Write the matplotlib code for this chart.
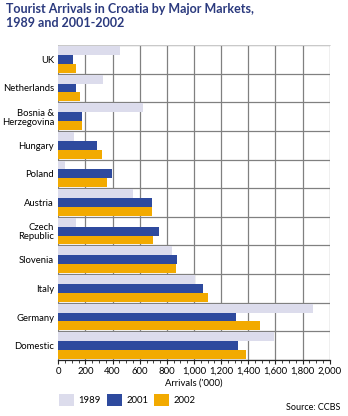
import matplotlib
matplotlib.use("Agg")
import matplotlib.pyplot as plt
from matplotlib.patches import Patch
from matplotlib.ticker import FuncFormatter, MultipleLocator

categories = ["UK", "Netherlands", "Bosnia &\nHerzegovina", "Hungary", "Poland",
              "Austria", "Czech\nRepublic", "Slovenia", "Italy", "Germany", "Domestic"]
arr_1989 = [457, 330, 627, 116, 49, 553, 133, 841, 1004, 1875, 1587]
arr_2001 = [111, 133, 177, 288, 398, 694, 745, 878, 1063, 1306, 1321]
arr_2002 = [133, 157, 177, 325, 362, 694, 701, 871, 1100, 1483, 1380]
series_labels = ["1989", "2001", "2002"]
colors = ["#dcdcec", "#2e4a9e", "#f2aa00"]

plt.rcParams['font.family'] = ['Lato', 'DejaVu Sans']

fig = plt.figure(figsize=(3.48, 4.16), dpi=100)
ax = fig.add_axes([58.3/348, 1-360/416, (329.7-58.3)/348, (360-45)/416])

y = list(range(len(categories)))
h = 0.31
for vals, off, c, lab in zip([arr_1989, arr_2001, arr_2002], [-h, 0, h], colors, series_labels):
    ax.barh([v + off for v in y], vals, height=h, color=c, label=lab, zorder=2, linewidth=0)

ax.set_xlim(0, 2000)
ax.set_ylim(len(categories) - 0.5, -0.5)
ax.set_yticks(y)
ax.set_yticklabels(categories, fontsize=6.8, linespacing=1.0)
ax.tick_params(axis='y', length=0, pad=3)
ax.set_yticks([i + 0.5 for i in range(-1, len(categories))], minor=True)
ax.tick_params(axis='y', which='minor', length=0)

ax.xaxis.set_major_locator(MultipleLocator(200))
ax.xaxis.set_minor_locator(MultipleLocator(50))
ax.xaxis.set_major_formatter(FuncFormatter(lambda v, p: f"{int(v):,}"))
ax.tick_params(axis='x', which='major', labelsize=6.8, length=3, width=0.8, pad=2, color='#222222')
ax.tick_params(axis='x', which='minor', length=2, width=0.6, color='#222222')

ax.grid(True, axis='x', which='major', color='#808080', linewidth=0.9, zorder=0)
ax.grid(True, axis='y', which='minor', color='#808080', linewidth=0.9, zorder=0)
ax.set_axisbelow(True)

for s in ['left', 'right']:
    ax.spines[s].set_visible(False)
ax.spines['top'].set_color('#d8d8d8')
ax.spines['top'].set_linewidth(0.6)
ax.spines['bottom'].set_color('#222222')
ax.spines['bottom'].set_linewidth(0.9)

ax.set_xlabel("Arrivals ('000)", fontsize=6.8, labelpad=2)

title_color = "#2b3a7e"
fig.text(6/348, 1-3/416, "Tourist Arrivals in Croatia by Major Markets,\n1989 and 2001-2002",
         fontsize=9, fontweight='bold', color=title_color, va='top', ha='left', linespacing=1.2)

handles = [Patch(facecolor=c, edgecolor='none') for c in colors]
fig.legend(handles, series_labels, loc='upper left', bbox_to_anchor=(55/348, 1-390/416),
           ncol=3, frameon=False, fontsize=6.8, handlelength=1.6, handleheight=1.6,
           columnspacing=0.6, handletextpad=0.5, borderaxespad=0)

fig.text(340/348, 1-407/416, "Source: CCBS", fontsize=6.5, ha='right', va='center')

fig.savefig("out.png", dpi=100)
